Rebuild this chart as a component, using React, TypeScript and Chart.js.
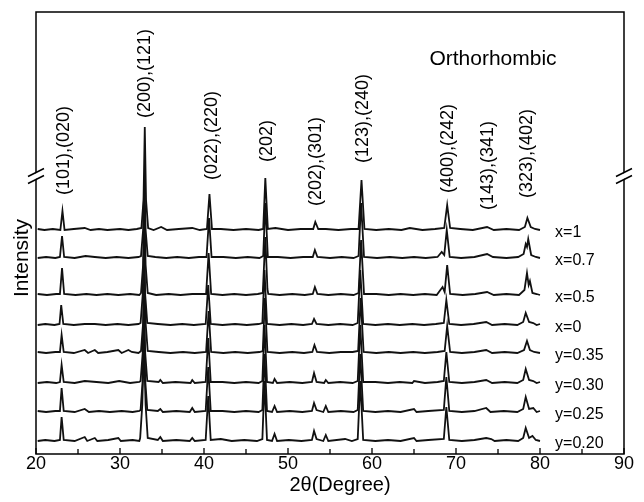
import React, { useEffect, useRef } from "react";
import { Chart, registerables } from "chart.js";

Chart.register(...registerables);

// ---- Data ----
const seriesNames = ["x=1", "x=0.7", "x=0.5", "x=0", "y=0.35", "y=0.30", "y=0.25", "y=0.20"];
// vertical stacking offsets (a.u.)
const offsets = [224, 196, 159, 129, 101, 71, 42, 13];

const xTicks = [20, 30, 40, 50, 60, 70, 80, 90];
const xMinorTicks = [25, 35, 45, 55, 65, 75, 85];

const peakLabels = ["(101),(020)", "(200),(121)", "(022),(220)", "(202)", "(202),(301)", "(123),(240)", "(400),(242)", "(143),(341)", "(323),(402)"];
const peakLabelX = [23.33, 32.98, 40.95, 47.5, 53.33, 58.93, 69.05, 73.8, 78.45];
const peakLabelY = [259, 336, 274, 292, 248, 291, 261, 244, 256];

// intensity profiles [2θ, intensity]
const s_x1 = [[20.2,1],[21,0],[22,1],[22.9,0],[23.15,19],[23.4,0],[24.5,1],[25.8,2],[26.5,0],[27.5,1],[28.5,0],[30,1],[31,0],[32,1],[32.55,2],[32.8,30],[32.95,103],[33.1,30],[33.35,2],[34,0],[34.9,3],[35.6,0],[37,1],[38.6,2],[39.5,0],[40.35,1],[40.65,36],[40.95,1],[42,1],[43.5,0],[45,1],[46.5,0],[47.05,1],[47.3,52],[47.6,1],[48.5,2],[50,0],[51.5,1],[53,1],[53.25,8],[53.6,1],[54.5,1],[56,0],[57.5,1],[58.4,1],[58.75,50],[59.1,1],[60.5,0],[62,1],[63.5,0],[64.5,2],[66,0],[67.5,1],[68.6,2],[68.95,25],[69.3,2],[70.5,1],[72,0],[73.7,3],[74.5,0],[76,1],[77.5,0],[78.2,3],[78.5,12],[78.9,3],[79.4,1],[80,0]];
const s_x07 = [[20.2,0],[21.2,1],[22.3,0],[22.85,1],[23.1,22],[23.35,1],[24.6,0],[25.9,2],[27,1],[28.3,0],[29.6,1],[31,0],[32.2,1],[32.5,2],[32.75,28],[32.9,80],[33.05,28],[33.3,2],[34.2,1],[35.5,0],[36.8,1],[38.2,0],[39.4,1],[40.3,1],[40.6,40],[40.9,1],[42.3,1],[43.8,0],[45.2,1],[46.6,0],[47.05,2],[47.3,55],[47.6,1],[48.8,1],[50.3,0],[51.8,1],[52.95,1],[53.2,8],[53.5,1],[55,0],[56.4,1],[57.8,0],[58.4,2],[58.7,55],[59.05,1],[60.6,0],[62.1,1],[63.6,0],[65,1],[66.4,0],[67.8,1],[68.3,6],[68.6,3],[68.9,28],[69.25,1],[70.6,0],[72.2,1],[73.7,4],[74.4,1],[76,0],[77.4,1],[78.05,4],[78.3,14],[78.45,11],[78.6,19],[78.95,3],[79.5,1],[80,0]];
const s_x05 = [[20.2,1],[21.3,0],[22.4,1],[22.85,1],[23.1,27],[23.35,1],[24.7,0],[26,1],[27.2,0],[28.5,1],[29.8,0],[31.2,1],[32.3,0],[32.5,2],[32.75,30],[32.9,90],[33.05,30],[33.3,2],[34.3,0],[35.8,1],[37.2,0],[38.6,1],[40.25,1],[40.55,42],[40.85,1],[42.2,0],[43.6,1],[45,0],[46.4,1],[47.0,2],[47.3,58],[47.55,6],[47.65,1],[49,0],[50.5,1],[52,0],[52.95,1],[53.2,8],[53.5,1],[54.8,0],[56.3,1],[57.8,0],[58.4,2],[58.7,55],[59.05,1],[60.5,1],[62,0],[63.4,1],[64.9,0],[66.3,1],[67.7,0],[68.4,8],[68.65,3],[68.95,30],[69.3,1],[70.8,0],[72.3,1],[73.7,3],[74.5,0],[76,1],[77.5,0],[78.15,5],[78.45,22],[78.65,10],[78.8,14],[79.1,2],[79.6,1],[80,0]];
const s_x0 = [[20.2,0],[21.1,1],[22.2,0],[22.8,1],[23.0,20],[23.25,1],[24.5,0],[25.8,1],[27,1],[28.3,0],[29.7,1],[31,0],[32.2,1],[32.45,2],[32.7,30],[32.85,85],[33.0,30],[33.25,2],[34.5,1],[36,0],[37.4,1],[38.8,0],[40.2,1],[40.5,40],[40.8,1],[42.2,0],[43.7,1],[45.1,0],[46.5,1],[46.95,2],[47.2,55],[47.5,1],[49,0],[50.4,1],[51.8,0],[52.85,1],[53.1,6],[53.4,1],[54.8,0],[56.2,1],[57.7,0],[58.3,2],[58.6,55],[58.95,1],[60.4,0],[61.9,1],[63.3,0],[64.8,1],[66.2,0],[67.6,1],[68.55,2],[68.85,25],[69.2,1],[70.6,0],[72.1,1],[73.6,3],[74.3,0],[75.8,1],[77.3,0],[78.0,3],[78.3,12],[78.7,3],[79.2,2],[79.6,0],[80,1]];
const s_y035 = [[20.2,1],[21.2,0],[22.3,1],[22.85,1],[23.05,18],[23.3,1],[24.5,0],[25.8,3],[26.2,0],[27,3],[27.4,0],[28.5,1],[29.8,3],[30.2,0],[31,3],[31.4,1],[32.2,0],[32.5,2],[32.75,30],[32.9,90],[33.05,30],[33.3,2],[34.6,1],[36,0],[37.5,1],[38.9,0],[40.25,1],[40.55,42],[40.85,1],[42.3,0],[43.7,1],[45.2,0],[46.6,1],[47.0,2],[47.25,55],[47.55,1],[49,0],[50.5,1],[51.9,0],[52.9,1],[53.15,8],[53.45,1],[54.9,0],[56.3,1],[57.7,1],[58.35,2],[58.65,55],[59,1],[60.5,0],[62,1],[63.4,0],[64.9,1],[66.3,0],[67.8,1],[68.65,2],[68.95,27],[69.3,1],[70.7,0],[72.2,1],[73.6,3],[74.3,0],[75.8,1],[77.3,0],[78.1,3],[78.45,12],[78.8,3],[79.3,1],[80,0]];
const s_y030 = [[20.2,0],[21.3,1],[22.4,0],[22.85,1],[23.05,18],[23.3,1],[24.6,0],[25.8,2],[27.2,1],[28.6,0],[29.9,2],[31.2,0],[32.3,1],[32.45,2],[32.7,30],[32.85,90],[33.0,30],[33.25,2],[34.6,1],[34.8,3],[35.1,0],[36.6,1],[38.4,0],[38.6,3],[38.9,0],[40.2,1],[40.5,45],[40.8,1],[42.2,1],[43.6,0],[45,1],[46.5,0],[46.95,2],[47.2,58],[47.5,1],[48.2,0],[48.4,4],[48.7,0],[50.2,1],[51.7,0],[52.85,1],[53.1,10],[53.4,1],[54.3,0],[54.5,3],[54.8,0],[56.2,1],[57.7,0],[58.3,2],[58.6,58],[58.95,1],[60.4,1],[61.9,0],[63.3,1],[64.8,0],[65,2],[66.3,0],[67.8,1],[68.55,2],[68.85,31],[69.2,1],[70.7,0],[72.2,1],[73.6,3],[74.3,0],[75.8,1],[77.3,0],[78.0,3],[78.3,14],[78.7,3],[79.2,2],[79.6,0],[80,1]];
const s_y025 = [[20.2,1],[21.2,0],[22.3,1],[22.85,1],[23.05,24],[23.3,1],[24.6,0],[25.8,3],[26.3,0],[27.5,1],[28.8,0],[30.2,1],[31.5,0],[32.3,1],[32.45,2],[32.7,32],[32.85,90],[33.0,32],[33.25,2],[34.5,1],[34.8,3],[35.1,0],[36.7,1],[38.3,0],[38.6,4],[38.9,0],[40.2,1],[40.5,45],[40.8,1],[42.2,1],[43.6,0],[45,1],[46.5,0],[46.95,2],[47.2,58],[47.5,1],[48.1,0],[48.4,6],[48.7,0],[50.2,1],[51.7,0],[52.85,1],[53.1,9],[53.4,2],[54.2,0],[54.5,6],[54.8,0],[56.3,1],[57.8,0],[58.3,2],[58.6,58],[58.95,1],[60.4,0],[61.9,1],[63.4,0],[65,3],[65.3,0],[66.7,1],[68.55,2],[68.85,35],[69.2,1],[70.7,0],[72.2,1],[73.6,4],[74.1,0],[75.7,1],[77.3,0],[78.0,3],[78.3,15],[78.7,3],[79.2,4],[79.6,0],[80,1]];
const s_y020 = [[20.2,0],[21.1,1],[22.2,0],[22.85,1],[23.05,24],[23.3,1],[24.6,0],[25.8,4],[26.1,0],[27,3],[27.3,0],[28.6,1],[29.8,3],[30.1,0],[31.5,1],[32.3,0],[32.4,3],[32.65,36],[32.85,95],[33.05,36],[33.3,3],[34.5,1],[34.8,4],[35.1,0],[36.7,1],[38.3,0],[38.6,3],[38.9,0],[40.2,1],[40.5,45],[40.8,1],[42,2],[43.3,0],[44.8,1],[46.3,0],[46.95,2],[47.2,60],[47.5,1],[48.1,0],[48.4,7],[48.7,0],[50.1,1],[51.6,0],[52.85,1],[53.1,10],[53.4,2],[54.2,0],[54.5,6],[54.8,0],[56.8,2],[57.6,0],[58.3,2],[58.6,60],[58.95,1],[60.4,0],[61.9,1],[63.4,0],[65,3],[65.3,0],[66.7,1],[68.55,2],[68.85,34],[69.2,1],[70.7,0],[72.2,1],[73.6,3],[74.2,2],[74.6,0],[76,1],[77.4,0],[78.0,3],[78.3,13],[78.7,3],[79.1,5],[79.5,1],[80,0]];

const seriesData = [s_x1, s_x07, s_x05, s_x0, s_y035, s_y030, s_y025, s_y020];

const FONT = "'Liberation Sans', Arial, Helvetica, sans-serif";

const overlayPlugin = {
  id: "overlay",
  afterDraw(chart: any) {
    const { ctx, chartArea } = chart;
    const xs = chart.scales.x;
    const ys = chart.scales.y;
    const { left, right, top, bottom } = chartArea;
    ctx.save();
    ctx.strokeStyle = "#000";
    ctx.fillStyle = "#000";
    ctx.lineWidth = 1.5;
    // frame
    ctx.beginPath();
    ctx.rect(left, top, right - left, bottom - top);
    ctx.stroke();

    // ticks (inward)
    ctx.lineWidth = 1.3;
    ctx.beginPath();
    xTicks.forEach((t) => {
      const px = xs.getPixelForValue(t);
      ctx.moveTo(px, bottom);
      ctx.lineTo(px, bottom - 6);
    });
    xMinorTicks.forEach((t) => {
      const px = xs.getPixelForValue(t);
      ctx.moveTo(px, bottom);
      ctx.lineTo(px, bottom - 5);
    });
    ctx.stroke();

    // tick labels
    ctx.font = `18px ${FONT}`;
    ctx.textAlign = "center";
    ctx.textBaseline = "middle";
    xTicks.forEach((t) => {
      ctx.fillText(String(t), xs.getPixelForValue(t), bottom + 10);
    });

    // axis titles
    ctx.font = `20px ${FONT}`;
    ctx.fillText("2\u03b8(Degree)", left + (right - left) / 2 + 10, bottom + 31);
    ctx.save();
    ctx.translate(22, 258);
    ctx.rotate(-Math.PI / 2);
    ctx.font = `21px ${FONT}`;
    ctx.fillText("Intensity", 0, 0);
    ctx.restore();

    // axis break marks
    const breakY = 176;
    [left, right].forEach((bx) => {
      ctx.save();
      ctx.strokeStyle = "#fff";
      ctx.lineWidth = 5;
      ctx.beginPath();
      ctx.moveTo(bx - 5, breakY + 2.5);
      ctx.lineTo(bx + 5, breakY - 2.5);
      ctx.stroke();
      ctx.strokeStyle = "#000";
      ctx.lineWidth = 1.5;
      ctx.beginPath();
      [-3.5, 3.5].forEach((dy) => {
        ctx.moveTo(bx - 8, breakY + dy + 4);
        ctx.lineTo(bx + 8, breakY + dy - 4);
      });
      ctx.stroke();
      ctx.restore();
    });

    // peak labels
    ctx.font = `18px ${FONT}`;
    ctx.textAlign = "left";
    ctx.textBaseline = "middle";
    peakLabels.forEach((lab, i) => {
      ctx.save();
      ctx.translate(xs.getPixelForValue(peakLabelX[i]), ys.getPixelForValue(peakLabelY[i]));
      ctx.rotate(-Math.PI / 2);
      ctx.fillText(lab, 0, 0);
      ctx.restore();
    });

    // series labels
    ctx.font = `16px ${FONT}`;
    ctx.textAlign = "left";
    seriesNames.forEach((name, i) => {
      ctx.fillText(name, xs.getPixelForValue(81.8), ys.getPixelForValue(offsets[i]) + 3);
    });

    // phase label
    ctx.font = `21px ${FONT}`;
    ctx.textAlign = "center";
    ctx.textBaseline = "alphabetic";
    ctx.fillText("Orthorhombic", 493, 65);
    ctx.restore();
  },
};

export default function App() {
  const ref = useRef<HTMLCanvasElement | null>(null);
  useEffect(() => {
    if (!ref.current) return;
    const datasets = seriesData.map((arr, i) => ({
      label: seriesNames[i],
      data: arr.map(([x, y]) => ({ x, y: y + offsets[i] })),
      borderColor: "#111",
      borderWidth: 1.8,
      pointRadius: 0,
      tension: 0,
      fill: false,
    }));
    const chart = new Chart(ref.current, {
      type: "line",
      data: { datasets },
      options: {
        animation: false,
        responsive: false,
        maintainAspectRatio: false,
        layout: { padding: { left: 36, right: 20, top: 12, bottom: 48 } },
        scales: {
          x: { type: "linear", min: 20, max: 90, display: false },
          y: { type: "linear", min: 0, max: 442, display: false },
        },
        plugins: { legend: { display: false }, tooltip: { enabled: false } },
      },
      plugins: [overlayPlugin],
    } as any);
    return () => chart.destroy();
  }, []);
  return (
    <div style={{ position: "absolute", left: 0, top: 0, width: 644, height: 502, background: "#fff" }}>
      <canvas ref={ref} width={644} height={502} style={{ width: 644, height: 502 }} />
    </div>
  );
}
